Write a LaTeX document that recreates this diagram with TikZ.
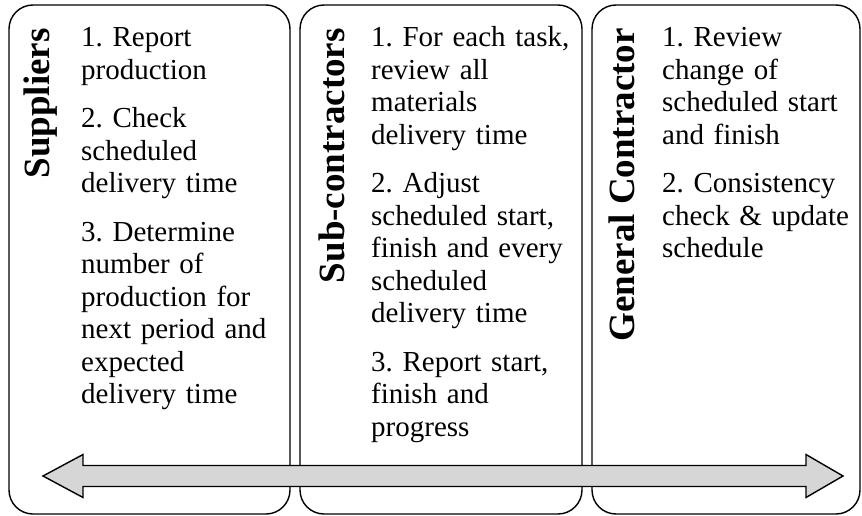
\documentclass[tikz,border=0pt]{standalone}
\usepackage{fontspec}
\setmainfont{Liberation Serif}
\frenchspacing
\begin{document}
\begin{tikzpicture}[x=1pt, y=-1pt,
  panel/.style={draw=black, line width=1.4pt, rounded corners=24pt},
  rolelabel/.style={rotate=90, anchor=east, inner sep=0pt,
    font=\fontsize{37}{40}\selectfont\bfseries},
  steps/.style={anchor=base west, inner sep=0pt, align=left, text width=210pt,
    font=\fontsize{29}{32.5}\selectfont\frenchspacing},
  flowarrow/.style={draw=black, line width=1.4pt, fill=black!16, line join=miter}
]
\useasboundingbox (0,0) rectangle (862,516);

% three lanes
\draw[panel] (9,5) rectangle (290,514);
\draw[panel] (300,5) rectangle (582,514);
\draw[panel] (592,5) rectangle (860,514);

% lane titles
\node[rolelabel] (sup) at (40.5,28) {Suppliers};
\node[rolelabel] (sub) at (331.5,28) {Sub-contractors};
\node[rolelabel] (gc)  at (622,28) {General Contractor};

% lane tasks
\node[steps] (supsteps) at (81,47) {1. Report\\production\\[16pt]
2. Check\\scheduled\\delivery time\\[16pt]
3. Determine\\number of\\production for\\next period and\\expected\\delivery time};

\node[steps] (substeps) at (371,47) {1. For each task,\\review all\\materials\\delivery time\\[16pt]
2. Adjust\\scheduled start,\\finish and every\\scheduled\\delivery time\\[16pt]
3. Report start,\\finish and\\progress};

\node[steps] (gcsteps) at (662,47) {1. Review\\change of\\scheduled start\\and finish\\[16pt]
2. Consistency\\check \& update\\schedule};

% two-way information flow
\draw[flowarrow] (43,476) -- (83,454.5) -- (83,465.5) -- (806,465.5) -- (806,454.5)
  -- (843,476) -- (806,497.5) -- (806,486.5) -- (83,486.5) -- (83,497.5) -- cycle;
\end{tikzpicture}
\end{document}
